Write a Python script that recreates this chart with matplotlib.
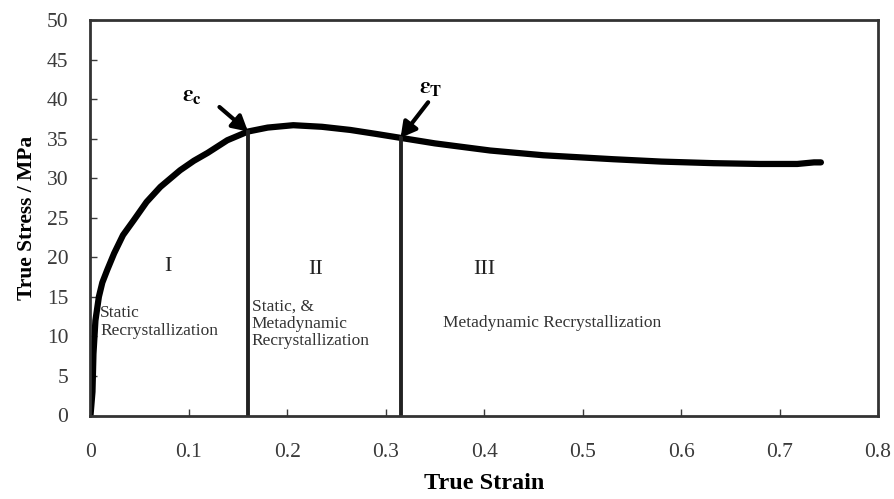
import matplotlib
matplotlib.use("Agg")
import matplotlib.pyplot as plt

plt.rcParams['font.family'] = ['Liberation Serif', 'DejaVu Serif']
plt.rcParams['mathtext.fontset'] = 'stix'

strain = [0, 0.002, 0.003, 0.005, 0.0085, 0.012, 0.017, 0.024, 0.033, 0.044, 0.057,
          0.071, 0.091, 0.105, 0.119, 0.139, 0.160, 0.18, 0.206, 0.235, 0.264, 0.29,
          0.315, 0.35, 0.406, 0.46, 0.531, 0.58, 0.633, 0.68, 0.718, 0.735, 0.742]
stress = [0, 3, 7.8, 12, 15, 16.8, 18.4, 20.5, 22.8, 24.7, 27.0,
          28.9, 31, 32.2, 33.2, 34.8, 35.9, 36.4, 36.7, 36.5, 36.1, 35.6,
          35.1, 34.4, 33.5, 32.9, 32.4, 32.1, 31.9, 31.8, 31.8, 32.0, 32.0]

eps_c = 0.160
eps_c_stress = 35.9
eps_t = 0.315
eps_t_stress = 35.1

xticks = [0, 0.1, 0.2, 0.3, 0.4, 0.5, 0.6, 0.7, 0.8]
xticklabels = ["0", "0.1", "0.2", "0.3", "0.4", "0.5", "0.6", "0.7", "0.8"]
yticks = [0, 5, 10, 15, 20, 25, 30, 35, 40, 45, 50]

fig = plt.figure(figsize=(8.95, 4.99), dpi=100)
ax = fig.add_axes([90.5/895, 1-415.5/499, (878-90.5)/895, (415.5-20)/499])

ax.plot(strain, stress, color='black', lw=4.5, solid_capstyle='round',
        solid_joinstyle='round')
ax.plot([eps_c, eps_c], [0, eps_c_stress], color='#222222', lw=2.8)
ax.plot([eps_t, eps_t], [0, eps_t_stress], color='#222222', lw=2.8)

ax.set_xlim(0, 0.8)
ax.set_ylim(0, 50)
ax.set_xticks(xticks)
ax.set_xticklabels(xticklabels)
ax.set_yticks(yticks)
ax.tick_params(direction='in', length=5, width=1, labelsize=15.5, colors='#3a3a3a')
ax.tick_params(axis='x', pad=20)
ax.tick_params(axis='y', pad=16)
for s in ax.spines.values():
    s.set_linewidth(2)
    s.set_color('#333333')

ax.set_xlabel("True Strain", fontsize=17.5, fontweight='bold', labelpad=8)
ax.set_ylabel("True Stress / MPa", fontsize=15.5, fontweight='bold', labelpad=7)

ax.text(0.0787, 18.8, "I", fontsize=16, ha='center', va='center', color='#222222')
ax.text(0.229, 18.4, "II", fontsize=16, ha='center', va='center', color='#222222')
ax.text(0.400, 18.4, "III", fontsize=16, ha='center', va='center', color='#222222')
ax.text(0.0097, 11.8, "Static\nRecrystallization", fontsize=12.5, ha='left', va='center',
        linespacing=1.15, color='#333333')
ax.text(0.164, 11.6, "Static, &\nMetadynamic\nRecrystallization", fontsize=12.5,
        ha='left', va='center', linespacing=1.1, color='#333333')
ax.text(0.358, 11.7, "Metadynamic Recrystallization", fontsize=12.5, ha='left',
        va='center', color='#333333')

ax.text(0.103, 40.3, r"$\mathbf{\varepsilon_c}$", fontsize=17, ha='center', va='center')
ax.text(0.346, 41.3, r"$\mathbf{\varepsilon_T}$", fontsize=17, ha='center', va='center')
arrow = dict(arrowstyle='-|>,head_length=0.9,head_width=0.5', color='black',
             lw=3, shrinkA=0, shrinkB=0)
ax.annotate("", xy=(eps_c, eps_c_stress), xytext=(0.131, 39.0), arrowprops=arrow)
ax.annotate("", xy=(eps_t, eps_t_stress), xytext=(0.343, 39.6), arrowprops=arrow)

fig.savefig("out.png", dpi=100)
